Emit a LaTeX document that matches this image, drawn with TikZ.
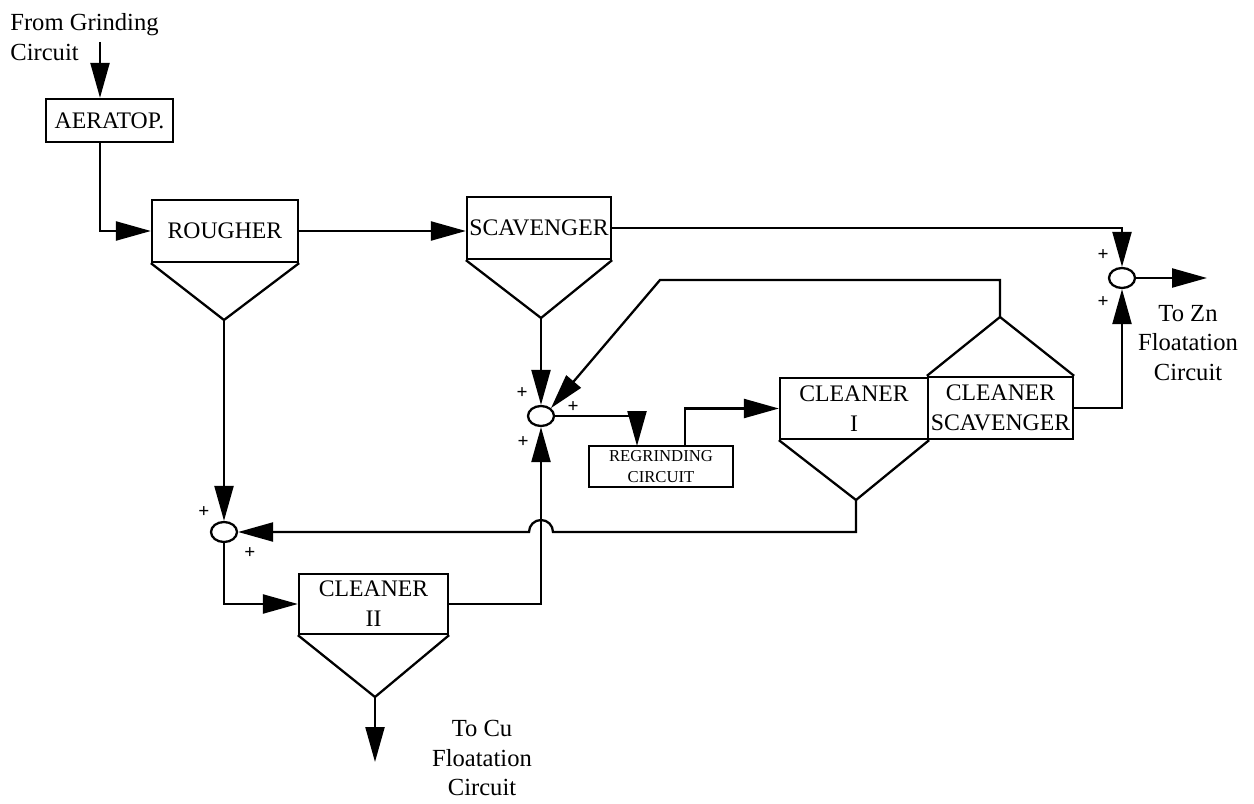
\documentclass[tikz,border=0pt]{standalone}
\usepackage{fontspec}
\setmainfont{Liberation Serif}
\usetikzlibrary{arrows.meta,shapes.geometric}
\tikzset{
  flowline/.style={line width=1.3pt},
  flow/.style={flowline, -{Triangle[length=0.7cm,width=0.38cm]}},
  unit/.style={flowline, draw=black, rectangle, inner sep=0pt, align=center, font=\fontsize{13.5}{17}\selectfont},
  hopper/.style={flowline},
  mix/.style={flowline, draw, ellipse, minimum width=0.52cm, minimum height=0.4cm, inner sep=0pt},
  sign/.style={font=\fontsize{11}{11}\selectfont\bfseries, inner sep=0pt},
  note/.style={align=center, font=\fontsize{14}{17}\selectfont, inner sep=0pt},
}
\begin{document}
\begin{tikzpicture}[x=0.02cm,y=-0.02cm]
\useasboundingbox (0,0) rectangle (1254,804);
\node[note, align=left, anchor=north west] (src) at (10,13) {From Grinding\\Circuit};
\node[unit, minimum width=2.54cm, minimum height=0.86cm] (aer) at (109.5,120.5) {AERATOP.};
\node[unit, minimum width=2.92cm, minimum height=1.24cm] (rough) at (225,231) {ROUGHER};
\node[unit, minimum width=2.88cm, minimum height=1.24cm] (scav) at (539,228) {SCAVENGER};
\node[unit, minimum width=2.88cm, minimum height=0.82cm, font=\fontsize{9.5}{12}\selectfont] (regr) at (661,466.5) {REGRINDING\\CIRCUIT};
\node[unit, minimum width=2.96cm, minimum height=1.22cm] (clA) at (854,408.5) {CLEANER\\I};
\node[unit, minimum width=2.9cm, minimum height=1.24cm] (clS) at (1000.5,408) {CLEANER\\SCAVENGER};
\node[unit, minimum width=2.98cm, minimum height=1.2cm] (clB) at (373.5,604) {CLEANER\\II};
\coordinate (roughtip) at (224,320);
\coordinate (scavtip) at (541,318);
\coordinate (clAtip) at (856,500);
\coordinate (cstop) at (1000,317);
\coordinate (clBtip) at (375,697);
\draw[hopper] (rough.south west) -- (roughtip) -- (rough.south east);
\draw[hopper] (scav.south west) -- (scavtip) -- (scav.south east);
\draw[hopper] (clA.south west) -- (clAtip) -- (clA.south east);
\draw[hopper] (clS.north west) -- (cstop) -- (clS.north east);
\draw[hopper] (clB.south west) -- (clBtip) -- (clB.south east);
\node[mix] (mixZn) at (1122,278) {};
\node[mix] (mixMid) at (541,416) {};
\node[mix] (mixCu) at (224,532) {};
\foreach \px/\py [count=\i] in {1103/255, 1103/302, 522/393, 573/407, 523/442, 204/512, 250/553}
  \node[sign] (plus\i) at (\px,\py) {+};
\coordinate (feed) at (100,42);
\draw[flow] (feed) -- (feed |- aer.north);
\draw[flow] (aer.south -| feed) |- (rough.west);
\draw[flow] (rough.east) -- (rough.east -| scav.west);
\draw[flow] (scav.east) -| (mixZn.north);
\draw[flow] (clS.east) -| (mixZn.south);
\coordinate (znout) at (1207,278);
\draw[flow] (mixZn.east) -- (znout);
\node[note] (zn) at (1188,343) {To Zn\\Floatation\\Circuit};
\draw[flow] (scavtip) -- (mixMid.north);
\coordinate (recyc) at (660,280);
\draw[flow] (cstop) |- (recyc) -- (mixMid.north east);
\coordinate (rgin) at (637,446);
\coordinate (rgout) at (685,446);
\draw[flow] (mixMid.east) -| (rgin);
\draw[flow] (rgout) |- (clA.west);
\coordinate (hop) at (553,532);
\draw[flow] (clAtip) |- (hop) arc[start angle=0, end angle=-180, radius=12] -- (mixCu.east);
\draw[flow] (roughtip) -- (mixCu.north);
\draw[flow] (mixCu.south) |- (clB.west);
\draw[flow] (clB.east) -| (mixMid.south);
\coordinate (cuout) at (375,762);
\draw[flow] (clBtip) -- (cuout);
\node[note] (cu) at (482,758) {To Cu\\Floatation\\Circuit};
\end{tikzpicture}
\end{document}
